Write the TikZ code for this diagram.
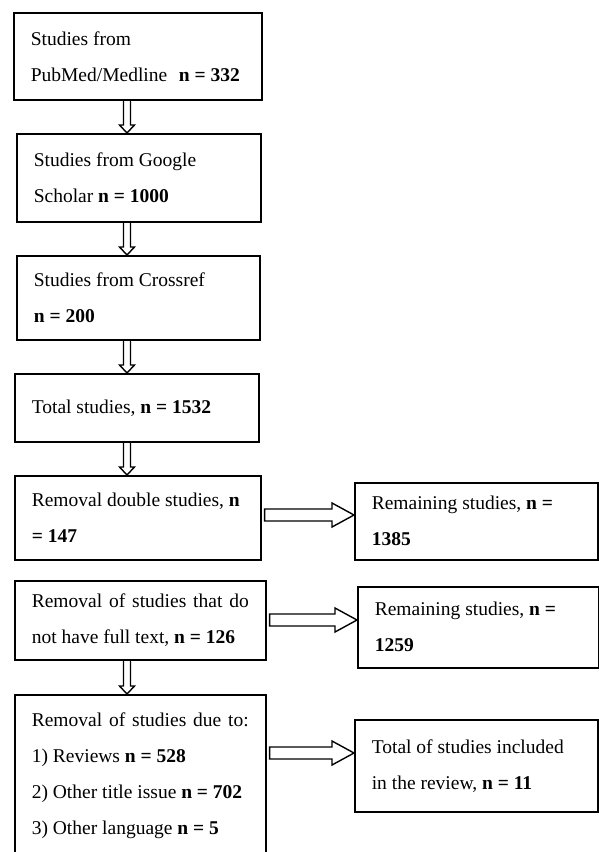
\documentclass[tikz,border=0pt]{standalone}
\usepackage{fontspec}
\setmainfont{Liberation Serif}
\usetikzlibrary{calc}

% hollow arrow going down from #1 to #2
\newcommand{\vflow}[2]{%
  \draw[flow] ($(#1.south -| spine)+(-3.5,0)$) -- ($(#2.north -| spine)+(-3.5,-8)$)
    -- ++(-4,0) -- (#2.north -| spine) -- ($(#2.north -| spine)+(7.5,-8)$)
    -- ++(-4,0) -- ($(#1.south -| spine)+(3.5,0)$);}
% hollow arrow going right from #1 to #2 at height #3
\newcommand{\hflow}[3]{%
  \draw[flow] ($(#1.east |- 0,#3)+(3,-6)$) -- ($(#2.west |- 0,#3)+(-22,-6)$)
    -- ++(0,-6) -- (#2.west |- 0,#3) -- ($(#2.west |- 0,#3)+(-22,12)$)
    -- ++(0,-6) -- ($(#1.east |- 0,#3)+(3,6)$) -- cycle;}

\begin{document}
\begin{tikzpicture}[x=1pt,y=-1pt,
		box/.style={rectangle,draw,line width=1.6pt,anchor=north west,inner xsep=17pt,inner ysep=4pt,
			align=left,font=\fontsize{19.5}{36}\selectfont,
			execute at begin node={\spaceskip=0pt\xspaceskip=0pt}},
		flow/.style={line width=1.4pt}]

	\useasboundingbox (0,0) rectangle (598,852);
	\coordinate (spine) at (127,0);

	% Search sources
	\node[box,text width=214pt,minimum height=87pt] (pubmed) at (13,12)
		{Studies from\\\mbox{PubMed/Medline\hspace{0.6em}\textbf{n = 332}}};
	\node[box,text width=210pt,minimum height=88pt] (scholar) at (16,133)
		{Studies from Google\\Scholar \textbf{n = 1000}};
	\node[box,text width=209pt,minimum height=84pt] (crossref) at (16,255)
		{Studies from Crossref\\\textbf{n = 200}};
	\node[box,text width=210pt,minimum height=68pt] (total) at (14,373)
		{Total studies, \textbf{n = 1532}};

	% Screening
	\node[box,text width=212pt,minimum height=84pt] (double) at (14,475)
		{\mbox{Removal double studies, \textbf{n}}\\\textbf{= 147}};
	\node[box,text width=217pt,minimum height=79pt,align=justify] (fulltext) at (14,580)
		{Removal of studies that do\linebreak not have full text, \textbf{n = 126}};
	\node[box,text width=217pt,minimum height=162pt,align=justify] (reasons) at (14,694)
		{Removal of studies due to:\linebreak 1) Reviews \textbf{n = 528}\\2) Other title issue \textbf{n = 702}\\3) Other language \textbf{n = 5}};

	% Results
	\node[box,text width=209pt,minimum height=77pt] (remainA) at (354,482)
		{Remaining studies, \textbf{n =}\\\textbf{1385}};
	\node[box,text width=207pt,minimum height=81pt] (remainB) at (357,586)
		{Remaining studies, \textbf{n =}\\\textbf{1259}};
	\node[box,text width=209pt,minimum height=92pt] (included) at (354,719)
		{Total of studies included\\in the review, \textbf{n = 11}};

	% Arrows
	\vflow{pubmed}{scholar}
	\vflow{scholar}{crossref}
	\vflow{crossref}{total}
	\vflow{total}{double}
	\vflow{fulltext}{reasons}

	\hflow{double}{remainA}{515}
	\hflow{fulltext}{remainB}{620}
	\hflow{reasons}{included}{753}
\end{tikzpicture}
\end{document}
